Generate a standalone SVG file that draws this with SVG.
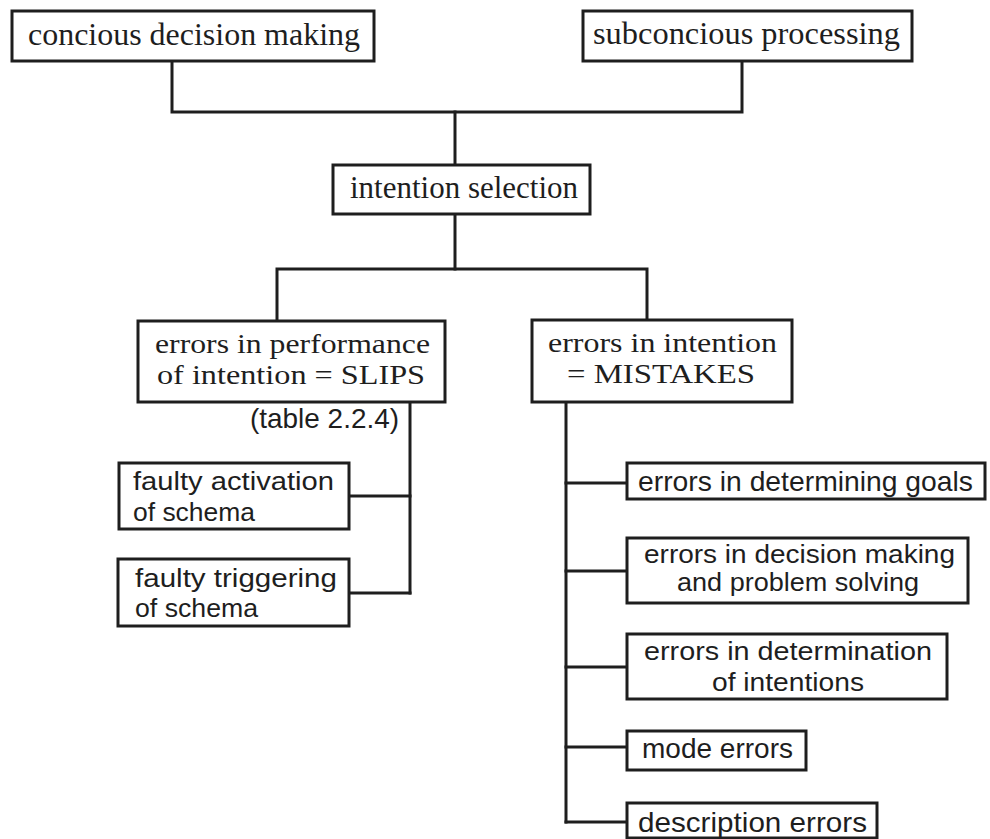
<svg xmlns="http://www.w3.org/2000/svg" width="990" height="839" viewBox="0 0 990 839">
  <style>
    .box { fill: #ffffff; stroke: #1e1e1e; stroke-width: 3; }
    .wire { fill: none; stroke: #1e1e1e; stroke-width: 3; stroke-linejoin: miter; stroke-linecap: square; }
    .serif { font-family: "Liberation Serif", "Times New Roman", serif; font-size: 32px; fill: #1e1e1e; }
    .serif2 { font-family: "Liberation Serif", "Times New Roman", serif; font-size: 28px; fill: #1e1e1e; }
    .sans { font-family: "Liberation Sans", Arial, sans-serif; font-size: 28px; fill: #1e1e1e; }
    .sans2 { font-family: "Liberation Sans", Arial, sans-serif; font-size: 25px; fill: #1e1e1e; }
  </style>
  <rect width="990" height="839" fill="#ffffff"/>

  <!-- connectors -->
  <g id="connectors" class="wire">
    <path d="M172 61 V112 H742 V61"/>
    <path d="M455 112 V165"/>
    <path d="M455 214 V269"/>
    <path d="M277 321 V269 H647 V320"/>
    <path d="M410 402 V593"/>
    <path d="M349 496 H410"/>
    <path d="M349 593 H410"/>
    <path d="M566 402 V822"/>
    <path d="M566 483 H627"/>
    <path d="M566 571 H627"/>
    <path d="M566 667 H627"/>
    <path d="M566 747 H627"/>
    <path d="M566 822 H627"/>
  </g>

  <g id="conscious">
    <rect class="box" x="12" y="11" width="362" height="50"/>
    <text class="serif" x="28" y="45" textLength="332" lengthAdjust="spacingAndGlyphs">concious decision making</text>
  </g>

  <g id="subconscious">
    <rect class="box" x="583" y="11" width="329" height="50"/>
    <text class="serif" x="593" y="44" textLength="307" lengthAdjust="spacingAndGlyphs">subconcious processing</text>
  </g>

  <g id="intention-selection">
    <rect class="box" x="333" y="165" width="257" height="49"/>
    <text class="serif" x="350" y="198" textLength="228" lengthAdjust="spacingAndGlyphs">intention selection</text>
  </g>

  <g id="slips">
    <rect class="box" x="138" y="321" width="307" height="81"/>
    <text class="serif2" x="155" y="353" textLength="275" lengthAdjust="spacingAndGlyphs">errors in performance</text>
    <text class="serif2" x="157" y="384" textLength="268" lengthAdjust="spacingAndGlyphs">of intention = SLIPS</text>
    <text class="sans" x="250" y="428" textLength="149" lengthAdjust="spacingAndGlyphs">(table 2.2.4)</text>
  </g>

  <g id="faulty-activation">
    <rect class="box" x="119" y="463" width="230" height="66"/>
    <text class="sans2" x="133" y="490" textLength="201" lengthAdjust="spacingAndGlyphs">faulty activation</text>
    <text class="sans2" x="133" y="521" textLength="122" lengthAdjust="spacingAndGlyphs">of schema</text>
  </g>

  <g id="faulty-triggering">
    <rect class="box" x="118" y="559" width="231" height="67"/>
    <text class="sans2" x="135" y="587" textLength="202" lengthAdjust="spacingAndGlyphs">faulty triggering</text>
    <text class="sans2" x="135" y="617" textLength="123" lengthAdjust="spacingAndGlyphs">of schema</text>
  </g>

  <g id="mistakes">
    <rect class="box" x="532" y="320" width="260" height="82"/>
    <text class="serif2" x="548" y="352" textLength="229" lengthAdjust="spacingAndGlyphs">errors in intention</text>
    <text class="serif2" x="567" y="383" textLength="188" lengthAdjust="spacingAndGlyphs">= MISTAKES</text>
  </g>

  <g id="goals">
    <rect class="box" x="627" y="463" width="358" height="36"/>
    <text class="sans" x="638" y="491" textLength="335" lengthAdjust="spacingAndGlyphs">errors in determining goals</text>
  </g>

  <g id="decision-making">
    <rect class="box" x="627" y="538" width="341" height="65"/>
    <text class="sans2" x="644" y="563" textLength="311" lengthAdjust="spacingAndGlyphs">errors in decision making</text>
    <text class="sans2" x="677" y="591" textLength="242" lengthAdjust="spacingAndGlyphs">and problem solving</text>
  </g>

  <g id="determination">
    <rect class="box" x="627" y="634" width="320" height="65"/>
    <text class="sans2" x="644" y="660" textLength="288" lengthAdjust="spacingAndGlyphs">errors in determination</text>
    <text class="sans2" x="712" y="691" textLength="152" lengthAdjust="spacingAndGlyphs">of intentions</text>
  </g>

  <g id="mode-errors">
    <rect class="box" x="627" y="731" width="179" height="39"/>
    <text class="sans" x="642" y="758" textLength="151" lengthAdjust="spacingAndGlyphs">mode errors</text>
  </g>

  <g id="description-errors">
    <rect class="box" x="627" y="803" width="250" height="35"/>
    <text class="sans" x="638" y="832" textLength="229" lengthAdjust="spacingAndGlyphs">description errors</text>
  </g>
</svg>
